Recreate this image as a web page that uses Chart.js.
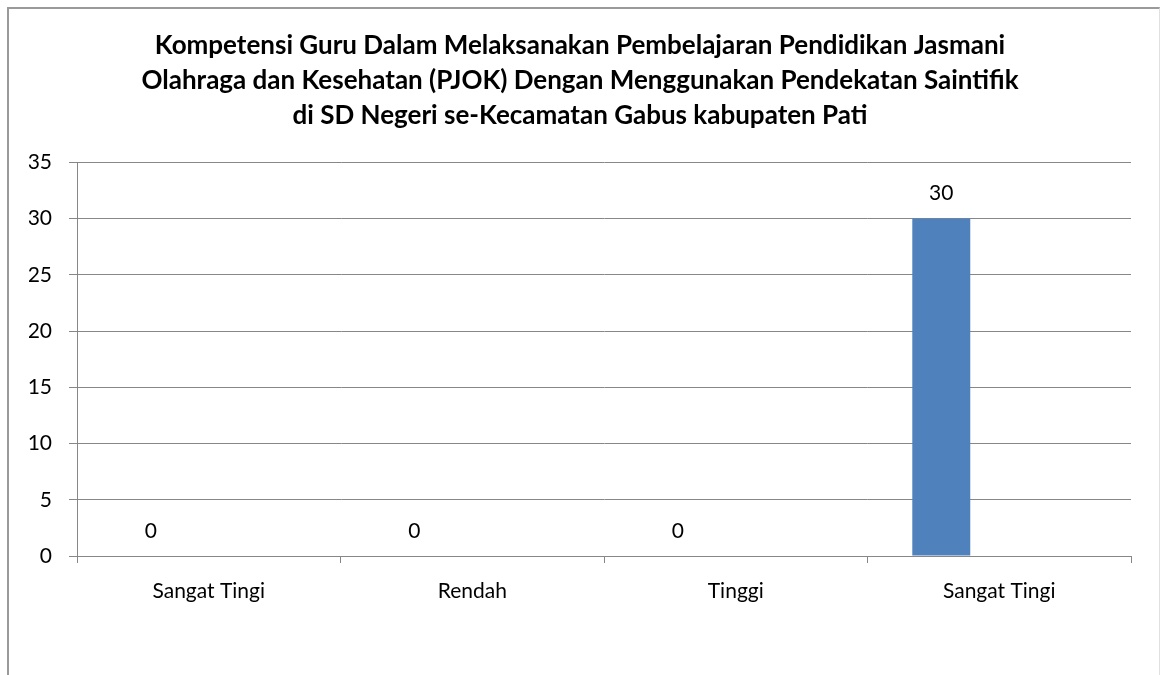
<!DOCTYPE html>
<html>
<head>
<meta charset="utf-8">
<script src="https://cdn.jsdelivr.net/npm/chart.js@4"></script>
<style>
  html, body { margin: 0; padding: 0; background: #fff; }
  #wrap { position: relative; width: 1160px; height: 675px; overflow: hidden; }
  #frame { position: absolute; left: 7px; top: 7px; width: 1150px; height: 700px;
           border-left: 2px solid #9a9a9a; border-top: 2px solid #9a9a9a; border-right: 1px solid #e0e0e0; }
  #chart1 { position: absolute; left: 0; top: 0; }
</style>
</head>
<body>
<div id="wrap">
  <div id="frame"></div>
  <canvas id="chart1" width="1160" height="675"></canvas>
</div>
<script>
const judul = [
  "Kompetensi Guru Dalam Melaksanakan Pembelajaran Pendidikan Jasmani",
  "Olahraga dan Kesehatan (PJOK) Dengan Menggunakan Pendekatan Saintifik",
  "di SD Negeri se-Kecamatan Gabus kabupaten Pati"
];
const kategori = ["Sangat Tingi", "Rendah", "Tinggi", "Sangat Tingi"];
const jumlah = [0, 0, 0, 30];
const kosong = [null, null, null, null];  // seri kedua kosong (di Excel)

const abu = "#878787";
const fontNama = "Lato, 'Open Sans', sans-serif";

// label nilai di atas batang
const labelNilai = {
  id: "labelNilai",
  afterDatasetsDraw(chart) {
    const ctx = chart.ctx;
    const meta = chart.getDatasetMeta(0);
    ctx.save();
    ctx.font = "21px " + fontNama;
    ctx.fillStyle = "#000";
    ctx.textAlign = "center";
    ctx.textBaseline = "middle";
    meta.data.forEach((bar, i) => {
      const v = jumlah[i];
      if (v === null) return;
      ctx.fillText(String(v), bar.x, bar.y - 25);
    });
    ctx.restore();
  }
};

let plot = () => {
  const ctx = document.getElementById("chart1");
  const dataset = {
    labels: kategori,
    datasets: [
      {
        label: "Jumlah",
        data: jumlah,
        backgroundColor: "#4F81BD",
        barPercentage: 0.5,
        categoryPercentage: 0.88,
      },
      {
        label: "",
        data: kosong,
        backgroundColor: "#C0504D",
        barPercentage: 0.5,
        categoryPercentage: 0.88,
      },
    ],
  };
  const config = {
    type: "bar",
    data: dataset,
    options: {
      responsive: false,
      animation: false,
      layout: { padding: { left: 29, right: 29, top: 12, bottom: 59 } },
      plugins: {
        legend: { display: false },
        tooltip: { enabled: false },
        title: {
          display: true,
          text: judul,
          color: "#000",
          font: { family: fontNama, size: 26, weight: "bold", lineHeight: 1.35 },
          padding: { top: 16, bottom: 29 },
        },
      },
      scales: {
        x: {
          afterFit: (s) => { s.height = 60; },
          grid: { offset: true, drawOnChartArea: false, drawTicks: true, tickLength: 7, color: abu },
          border: { display: true, color: abu },
          ticks: { color: "#000", padding: 16, font: { family: fontNama, size: 21 } },
        },
        y: {
          min: 0,
          max: 35,
          afterFit: (s) => { s.width = 48; },
          ticks: { stepSize: 5, color: "#000", padding: 17, font: { family: fontNama, size: 21 } },
          grid: { color: abu, tickLength: 8, drawTicks: true },
          border: { display: true, color: abu },
        },
      },
    },
    plugins: [labelNilai],
  };
  const chart = new Chart(ctx, config);
};

plot();
</script>
</body>
</html>
